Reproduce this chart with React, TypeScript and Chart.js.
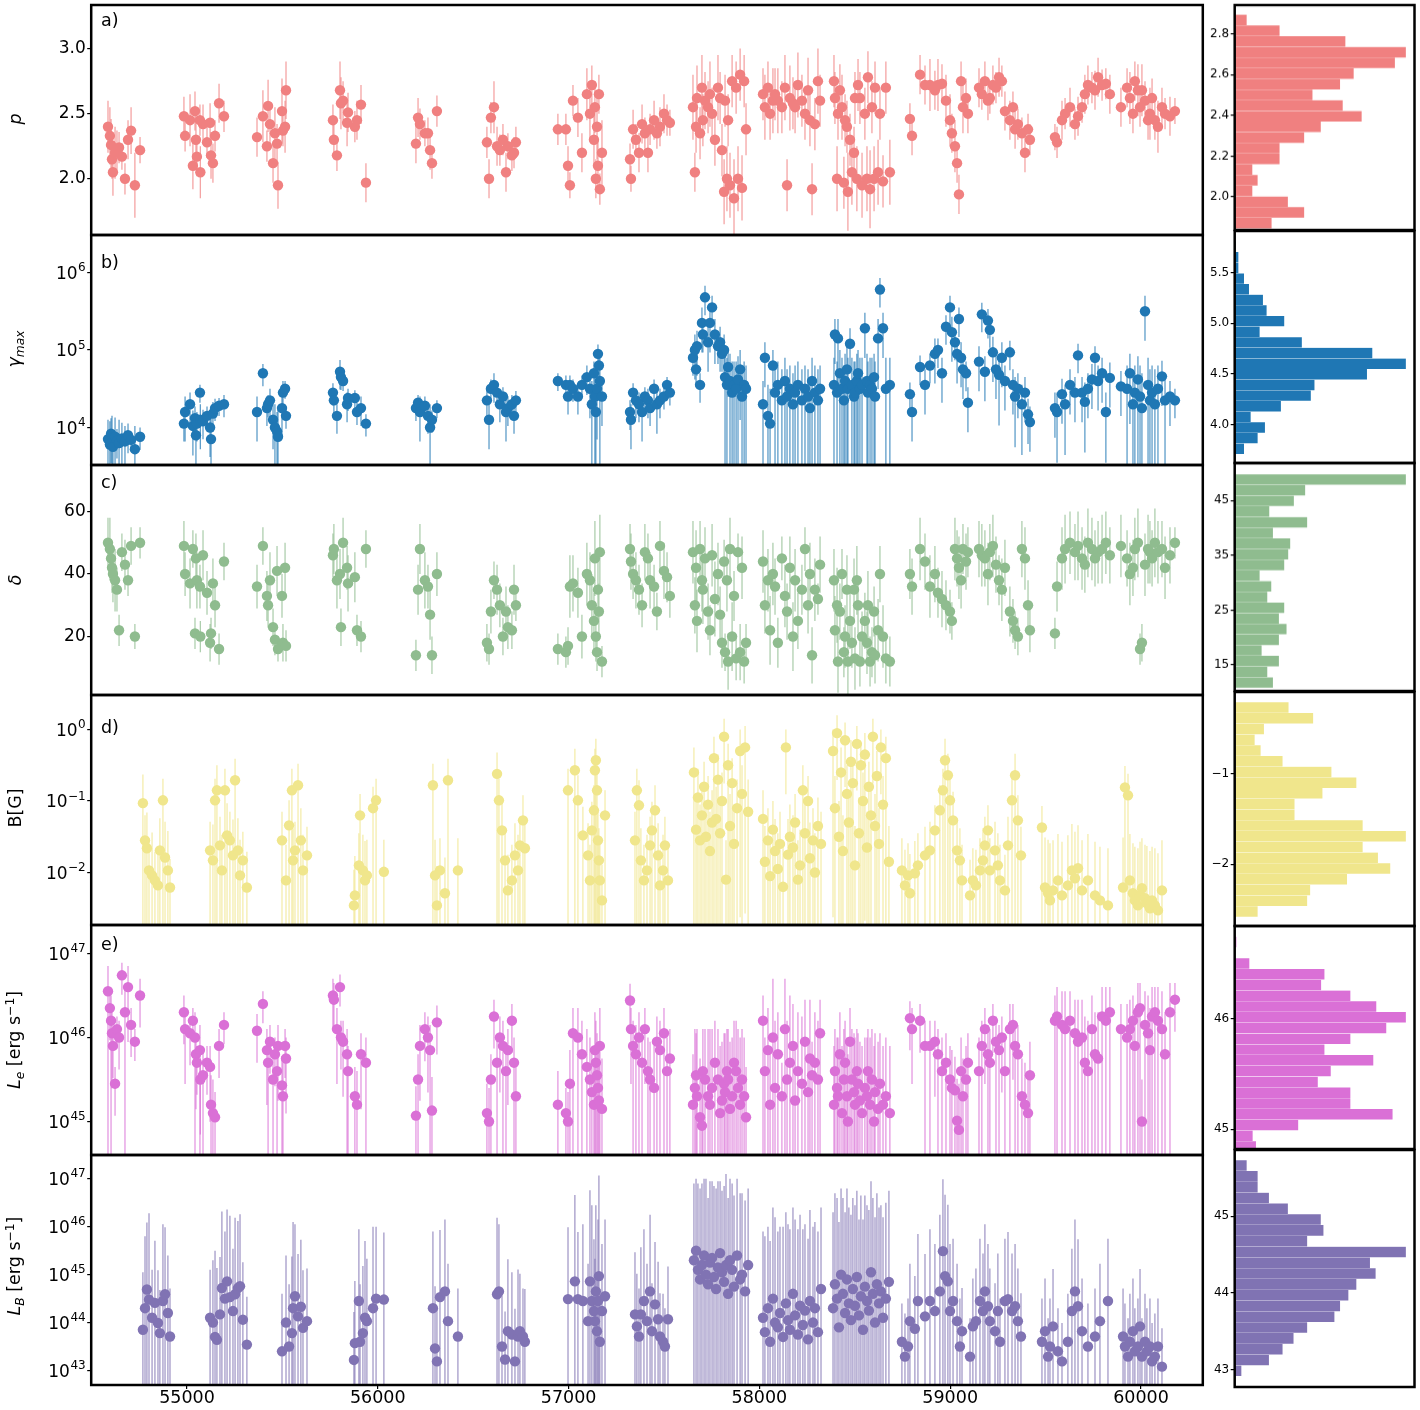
import React, { useEffect, useRef } from "react";
import { Chart, registerables } from "chart.js";

Chart.register(...registerables);

const FAMILY = '"DejaVu Sans", "Liberation Sans", sans-serif';

// ---------- shared time axis ----------
const xTicks = [55000, 56000, 57000, 58000, 59000, 60000];

// observation epochs used by panels a, b, c, e (MJD)
const mjdA = [
	54586, 54596, 54602, 54607, 54612, 54623, 54633, 54644, 54659, 54675, 54691, 54707, 54727, 54754,
	54984, 54990, 55016, 55031, 55042, 55047, 55052, 55068, 55070, 55084, 55105, 55121, 55126, 55136, 55147, 55168, 55194,
	55367, 55398, 55419, 55425, 55435, 55451, 55461, 55472, 55477, 55498, 55503, 55514, 55519,
	55765, 55770, 55786, 55802, 55807, 55818, 55839, 55844, 55880, 55891, 55912, 55938,
	56200, 56211, 56221, 56247, 56263, 56274, 56284, 56310,
	56572, 56583, 56593, 56609, 56625, 56640, 56656, 56672, 56682, 56703, 56714, 56724,
	56944, 56986, 56997, 57007, 57023, 57049, 57070, 57096, 57112, 57122, 57133, 57138, 57143, 57149, 57154, 57159, 57164, 57175,
	57322, 57327, 57338, 57353, 57369, 57385, 57400, 57416, 57427, 57448, 57463, 57479, 57500, 57516, 57531,
	57652, 57662, 57668, 57673, 57689, 57699, 57704, 57715, 57731, 57741, 57752, 57767, 57783, 57794, 57804, 57815, 57820, 57830, 57836, 57846, 57857, 57867, 57878, 57888, 57899, 57909, 57920, 57930,
	58019, 58029, 58045, 58056, 58071, 58082, 58097, 58118, 58134, 58145, 58160, 58176, 58187, 58202, 58223, 58239, 58255, 58265, 58276, 58291, 58307, 58318,
	58391, 58396, 58407, 58412, 58422, 58433, 58443, 58449, 58459, 58464, 58475, 58485, 58496, 58501, 58511, 58517, 58527, 58538, 58553, 58564, 58569, 58580, 58590, 58601, 58606, 58622, 58632, 58648, 58663, 58684,
	58789, 58800, 58842, 58868, 58894, 58920, 58936, 58957, 58978, 58999, 59009, 59025, 59036, 59046, 59057, 59067, 59083, 59093,
	59151, 59166, 59182, 59198, 59208, 59224, 59240, 59256, 59271, 59287, 59313, 59329, 59340, 59355, 59376, 59392, 59408, 59418,
	59549, 59560, 59586, 59602, 59628, 59654, 59670, 59691, 59706, 59722, 59743, 59759, 59775, 59796, 59816, 59837,
	59895, 59927, 59942, 59958, 59968, 59984, 59995, 60005, 60021, 60037, 60047, 60058, 60073, 60089, 60110, 60126, 60152, 60178,
];

// a) spectral index p
const pVal = [
	2.40, 2.33, 2.26, 2.15, 2.05, 2.20, 2.22, 2.24, 2.17, 2.00, 2.30, 2.37, 1.95, 2.22,
	2.48, 2.33, 2.45, 2.10, 2.52, 2.30, 2.17, 2.45, 2.05, 2.42, 2.28, 2.43, 2.18, 2.12, 2.33, 2.58, 2.48,
	2.32, 2.48, 2.25, 2.56, 2.42, 2.12, 2.35, 2.27, 1.95, 2.52, 2.37, 2.40, 2.68,
	2.45, 2.30, 2.18, 2.68, 2.58, 2.60, 2.43, 2.51, 2.40, 2.45, 2.57, 1.97,
	2.27, 2.47, 2.42, 2.35, 2.35, 2.22, 2.12, 2.52,
	2.28, 2.00, 2.47, 2.55, 2.25, 2.22, 2.30, 2.05, 2.25, 2.18, 2.20, 2.28,
	2.38, 2.38, 2.10, 1.95, 2.60, 2.47, 2.20, 2.65, 2.50, 2.72, 2.30, 2.55, 2.00, 2.40, 2.10, 2.65, 1.92, 2.20,
	2.15, 2.00, 2.38, 2.30, 2.20, 2.42, 2.35, 2.20, 2.38, 2.45, 2.35, 2.40, 2.50, 2.45, 2.43,
	2.55, 2.05, 2.40, 2.62, 2.35, 2.70, 2.45, 2.60, 2.55, 2.65, 2.50, 2.30, 2.70, 2.62, 2.22, 1.90, 2.60, 2.00, 2.45, 1.95, 2.75, 1.85, 2.70, 2.00, 2.80, 1.93, 2.75, 2.38,
	2.65, 2.55, 2.70, 2.50, 2.60, 2.65, 2.60, 2.55, 2.70, 1.95, 2.62, 2.58, 2.55, 2.72, 2.60, 2.50, 2.68, 2.45, 1.92, 2.42, 2.75, 2.60,
	2.75, 2.62, 2.00, 2.50, 2.68, 2.55, 1.97, 2.45, 2.40, 1.90, 2.30, 2.05, 2.20, 2.62, 2.00, 2.72, 2.62, 1.95, 2.50, 2.00, 2.78, 1.92, 2.55, 2.00, 2.70, 2.05, 2.50, 1.98, 2.70, 2.05,
	2.46, 2.33, 2.80, 2.72, 2.72, 2.68, 2.72, 2.73, 2.60, 2.45, 2.35, 2.25, 2.12, 1.88, 2.75, 2.55, 2.62, 2.50,
	2.70, 2.65, 2.75, 2.60, 2.62, 2.72, 2.70, 2.78, 2.75, 2.52, 2.45, 2.55, 2.38, 2.42, 2.35, 2.20, 2.38, 2.30,
	2.32, 2.28, 2.45, 2.50, 2.55, 2.42, 2.48, 2.55, 2.65, 2.72, 2.70, 2.68, 2.78, 2.72, 2.73, 2.65,
	2.55, 2.70, 2.62, 2.50, 2.75, 2.68, 2.55, 2.68, 2.60, 2.45, 2.50, 2.62, 2.45, 2.40, 2.55, 2.50, 2.48, 2.52,
];
const pErr = [
	.20, .22, .20, .15, .18, .20, .15, .12, .10, .12, .15, .18, .25, .10,
	.15, .12, .20, .18, .15, .20, .15, .12, .20, .15, .12, .15, .18, .15, .12, .15, .12,
	.15, .20, .12, .20, .15, .15, .20, .15, .18, .25, .12, .20, .22,
	.12, .15, .12, .22, .20, .15, .18, .15, .12, .15, .15, .15,
	.15, .15, .12, .10, .12, .15, .12, .12,
	.12, .15, .12, .20, .15, .12, .12, .15, .10, .12, .12, .12,
	.12, .12, .15, .10, .12, .15, .15, .20, .20, .15, .20, .20, .15, .25, .20, .15, .12, .25,
	.12, .10, .15, .12, .15, .15, .12, .15, .12, .15, .12, .15, .15, .12, .10,
	.25, .15, .20, .25, .20, .25, .20, .22, .20, .25, .20, .20, .25, .20, .20, .25, .20, .25, .20, .25, .20, .30, .20, .25, .20, .25, .20, .20,
	.20, .25, .20, .20, .25, .20, .25, .20, .25, .20, .25, .20, .20, .25, .20, .20, .25, .20, .20, .20, .25, .20,
	.20, .20, .25, .20, .20, .25, .20, .20, .20, .30, .20, .25, .20, .20, .25, .20, .20, .25, .20, .25, .20, .30, .20, .25, .20, .25, .20, .20, .20, .25,
	.12, .15, .15, .15, .20, .15, .20, .15, .20, .20, .15, .20, .15, .15, .15, .20, .15, .15,
	.15, .12, .15, .15, .12, .15, .12, .15, .12, .15, .15, .12, .15, .12, .12, .15, .12, .12,
	.10, .12, .15, .12, .15, .12, .15, .12, .15, .15, .12, .15, .15, .12, .12, .15,
	.15, .15, .20, .15, .15, .20, .15, .20, .15, .15, .20, .15, .15, .20, .15, .12, .15, .10,
];

// b) log10 gamma_max and size of its upper error (dex)
const gammaLog = [
	3.85, 3.78, 3.92, 3.80, 3.75, 3.88, 3.83, 3.80, 3.86, 3.82, 3.90, 3.84, 3.72, 3.88,
	4.05, 4.20, 4.30, 4.02, 4.12, 3.90, 4.05, 4.45, 4.10, 4.08, 4.15, 4.00, 3.85, 4.18, 4.25, 4.28, 4.30,
	4.20, 4.70, 4.25, 4.30, 4.35, 4.10, 4.00, 3.95, 3.88, 4.25, 4.45, 4.50, 4.15,
	4.45, 4.35, 4.15, 4.72, 4.65, 4.60, 4.30, 4.38, 4.38, 4.20, 4.25, 4.05,
	4.25, 4.32, 4.20, 4.28, 4.15, 4.00, 4.10, 4.25,
	4.35, 4.10, 4.50, 4.55, 4.45, 4.30, 4.40, 4.20, 4.25, 4.30, 4.15, 4.35,
	4.60, 4.55, 4.40, 4.55, 4.50, 4.40, 4.55, 4.65, 4.50, 4.30, 4.70, 4.40, 4.20, 4.50, 4.95, 4.80, 4.60, 4.40,
	4.20, 4.10, 4.45, 4.35, 4.30, 4.20, 4.40, 4.35, 4.25, 4.50, 4.30, 4.35, 4.40, 4.55, 4.45,
	4.90, 5.00, 4.75, 5.05, 4.55, 5.35, 5.20, 5.68, 5.10, 5.35, 5.55, 5.20, 5.05, 5.10, 4.95, 5.00, 4.65, 4.55, 4.78, 4.60, 4.45, 4.55, 4.50, 4.62, 4.75, 4.40, 4.55, 4.50,
	4.30, 4.90, 4.15, 4.05, 4.80, 4.45, 4.55, 4.35, 4.60, 4.40, 4.50, 4.30, 4.45, 4.55, 4.35, 4.50, 4.40, 4.25, 4.60, 4.45, 4.35, 4.50,
	4.55, 5.20, 4.45, 5.15, 4.70, 4.50, 4.35, 4.60, 4.75, 4.50, 5.08, 4.55, 4.40, 4.45, 4.60, 4.70, 4.50, 4.55, 5.28, 4.60, 4.45, 4.55, 4.50, 4.65, 4.40, 5.15, 5.78, 5.28, 4.50, 4.55,
	4.43, 4.20, 4.78, 4.55, 4.80, 4.95, 5.00, 4.70, 5.30, 5.55, 5.23, 5.10, 4.95, 5.40, 4.90, 4.75, 4.70, 4.32,
	4.85, 5.46, 4.72, 5.38, 5.26, 4.97, 4.75, 4.68, 4.90, 4.60, 4.97, 4.55, 4.40, 4.50, 4.30, 4.45, 4.17, 4.07,
	4.25, 4.20, 4.43, 4.30, 4.55, 4.45, 4.93, 4.45, 4.33, 4.50, 4.62, 4.90, 4.60, 4.70, 4.20, 4.64,
	4.53, 4.50, 4.70, 4.30, 4.45, 4.62, 4.40, 4.25, 5.50, 4.55, 4.35, 4.45, 4.30, 4.50, 4.66, 4.35, 4.40, 4.35,
];
const gammaUp = [
	.25, .30, .20, .35, .20, .25, .15, .30, .20, .20, .15, .10, .30, .12,
	.15, .20, .15, .20, .15, .25, .15, .10, .20, .15, .12, .20, .30, .15, .12, .10, .12,
	.20, .12, .15, .12, .15, .20, .30, .25, .35, .20, .15, .10, .12,
	.12, .15, .15, .15, .12, .10, .15, .12, .10, .12, .15, .12,
	.12, .10, .20, .12, .15, .30, .12, .10,
	.15, .20, .12, .15, .12, .15, .12, .20, .15, .12, .15, .12,
	.10, .12, .15, .12, .12, .15, .12, .15, .20, .30, .15, .30, .35, .25, .12, .15, .30, .20,
	.15, .20, .12, .15, .15, .20, .12, .15, .15, .12, .20, .15, .12, .10, .12,
	.15, .20, .15, .20, .15, .20, .15, .15, .20, .20, .15, .20, .15, .20, .15, .20, .30, .35, .20, .35, .40, .30, .35, .30, .25, .35, .30, .30,
	.30, .20, .40, .45, .20, .35, .30, .40, .30, .35, .30, .40, .35, .30, .40, .30, .35, .40, .30, .35, .40, .30,
	.35, .20, .40, .25, .30, .40, .45, .35, .30, .40, .20, .35, .45, .40, .35, .30, .40, .35, .20, .35, .40, .35, .40, .30, .45, .25, .15, .20, .40, .35,
	.15, .20, .15, .20, .15, .20, .15, .20, .15, .15, .20, .15, .20, .15, .20, .20, .15, .20,
	.20, .15, .20, .15, .15, .20, .20, .25, .20, .20, .15, .20, .25, .20, .25, .20, .20, .20,
	.20, .25, .20, .25, .20, .20, .15, .20, .25, .20, .20, .15, .20, .20, .25, .20,
	.20, .30, .25, .40, .35, .30, .40, .45, .20, .35, .40, .35, .45, .30, .20, .30, .20, .15,
];

// c) Doppler factor delta
const deltaVal = [
	50, 48, 45, 42, 40, 38, 35, 22, 47, 43, 38, 49, 20, 50,
	49, 40, 37, 48, 21, 45, 38, 36, 20, 46, 34, 18, 21, 37, 30, 16, 44,
	36, 49, 33, 30, 38, 23, 19, 41, 16, 33, 18, 42, 17,
	46, 48, 38, 40, 23, 50, 42, 37, 39, 22, 20, 48,
	14, 35, 48, 38, 36, 27, 14, 40,
	18, 16, 28, 38, 35, 30, 20, 28, 23, 22, 35, 30,
	16, 15, 17, 36, 37, 34, 20, 40, 38, 30, 25, 45, 20, 15, 35, 28, 47, 12,
	48, 44, 40, 38, 35, 30, 47, 45, 38, 36, 28, 49, 41, 39, 33,
	47, 30, 42, 25, 48, 38, 35, 45, 28, 22, 46, 32, 40, 27, 18, 44, 15, 38, 12, 48, 20, 33, 13, 47, 15, 42, 12, 18,
	44, 30, 38, 22, 40, 36, 18, 45, 33, 28, 42, 20, 38, 25, 35, 48, 30, 40, 14, 35, 32, 43,
	38, 22, 30, 12, 28, 40, 15, 20, 35, 12, 25, 18, 35, 13, 38, 30, 12, 20, 25, 18, 30, 12, 15, 28, 14, 22, 40, 20, 13, 12,
	40, 36, 48, 44, 36, 40, 34, 32, 30, 28, 25, 48, 45, 42, 38, 48, 44, 47,
	48, 46, 45, 40, 47, 49, 43, 38, 35, 42, 28, 25, 22, 20, 48, 45, 30, 22,
	21, 36, 45, 48, 50, 47, 49, 45, 43, 50, 48, 45, 47, 48, 50, 46,
	49, 45, 40, 42, 48, 50, 16, 18, 43, 48, 47, 45, 50, 47, 48, 42, 46, 50,
];
const deltaErr = [
	8, 10, 6, 8, 9, 10, 7, 5, 6, 8, 5, 6, 4, 5,
	8, 7, 8, 6, 5, 8, 9, 7, 5, 8, 7, 6, 5, 8, 7, 5, 6,
	7, 6, 8, 7, 9, 6, 5, 8, 4, 7, 6, 8, 5,
	7, 8, 9, 8, 6, 8, 7, 9, 8, 5, 5, 6,
	5, 8, 8, 9, 7, 8, 6, 7,
	6, 5, 7, 6, 8, 7, 6, 8, 7, 6, 8, 5,
	5, 5, 6, 10, 9, 8, 7, 10, 9, 10, 9, 12, 8, 6, 10, 9, 12, 5,
	8, 9, 8, 9, 8, 7, 9, 8, 9, 7, 6, 8, 9, 8, 7,
	10, 9, 12, 10, 9, 10, 11, 10, 9, 8, 10, 12, 10, 9, 8, 7, 6, 10, 9, 10, 11, 8, 7, 6, 9, 10, 7, 6,
	10, 9, 10, 11, 10, 9, 8, 7, 10, 9, 10, 11, 10, 9, 8, 7, 9, 10, 9, 10, 5, 9,
	10, 11, 12, 10, 9, 8, 8, 10, 11, 12, 9, 8, 10, 10, 11, 9, 8, 8, 9, 10, 11, 8, 8, 8, 9, 10, 9, 10, 8, 8,
	8, 9, 10, 9, 10, 9, 8, 9, 8, 7, 6, 10, 9, 10, 9, 8, 9, 8,
	9, 10, 9, 10, 9, 10, 9, 8, 10, 9, 8, 7, 6, 6, 9, 10, 8, 7,
	5, 8, 10, 11, 10, 9, 11, 10, 9, 11, 10, 9, 10, 11, 10, 9,
	10, 9, 10, 9, 10, 11, 5, 6, 10, 11, 10, 9, 11, 10, 9, 10, 9, 5,
];

// e) log10 L_e and upper error (dex)
const leLog = [
	46.55, 46.35, 46.20, 46.05, 45.90, 45.45, 46.10, 46.00, 46.74, 46.30, 46.60, 46.15, 45.95, 46.50,
	46.30, 46.10, 46.05, 46.20, 46.00, 45.80, 45.70, 45.85, 45.50, 45.55, 45.70, 45.65, 45.20, 45.10, 45.05, 45.90, 46.15,
	46.08, 46.40, 45.85, 45.70, 45.95, 45.50, 45.80, 45.60, 45.90, 45.43, 45.30, 45.90, 45.75,
	46.50, 46.45, 46.10, 46.60, 46.00, 45.95, 45.80, 45.60, 45.30, 45.20, 45.80, 45.70,
	45.07, 45.50, 45.90, 46.10, 46.00, 45.85, 45.13, 46.18,
	45.10, 45.00, 45.50, 46.25, 45.70, 46.00, 45.90, 45.60, 45.85, 46.20, 45.70, 45.30,
	45.20, 45.10, 45.00, 45.45, 46.05, 46.00, 45.80, 45.65, 45.50, 45.35, 45.20, 45.85, 45.70, 45.55, 45.40, 45.25, 45.90, 45.15,
	46.44, 46.10, 45.90, 45.80, 46.00, 45.70, 46.10, 45.60, 45.50, 45.40, 45.95, 45.85, 46.05, 45.60, 45.75,
	45.20, 45.40, 45.55, 45.30, 45.05, 44.95, 45.60, 45.50, 45.30, 45.20, 45.40, 45.70, 45.50, 45.10, 45.25, 45.45, 45.35, 45.60, 45.50, 45.15, 45.30, 45.70, 45.60, 45.40, 45.20, 45.50, 45.30, 45.05,
	46.20, 45.60, 45.85, 45.20, 46.00, 45.40, 45.80, 45.30, 46.10, 45.50, 45.70, 45.90, 45.25, 45.60, 45.45, 45.95, 45.35, 45.75, 45.55, 45.70, 45.50, 46.05,
	45.20, 45.60, 45.40, 45.30, 45.80, 45.10, 45.50, 45.70, 45.30, 45.00, 45.95, 45.50, 45.35, 45.20, 45.60, 45.45, 45.25, 45.10, 45.40, 45.30, 45.60, 45.20, 45.50, 45.00, 45.35, 45.15, 45.45, 45.20, 45.30, 45.10,
	46.23, 46.10, 46.20, 45.90, 45.90, 45.95, 45.80, 45.60, 45.70, 45.50, 45.40, 45.37, 45.01, 44.90, 45.60, 45.30, 45.50, 45.70,
	45.60, 45.90, 46.10, 45.80, 45.70, 46.20, 45.95, 45.85, 46.00, 45.60, 46.10, 46.15, 45.90, 45.80, 45.30, 45.20, 45.10, 45.55,
	46.20, 46.25, 46.15, 46.10, 46.20, 46.05, 45.95, 46.00, 45.70, 45.60, 46.10, 45.80, 45.75, 46.25, 46.20, 46.30,
	46.10, 46.00, 46.10, 46.20, 45.90, 46.30, 46.35, 45.00, 46.15, 46.05, 45.85, 46.25, 46.30, 46.20, 46.10, 45.80, 46.30, 46.45,
];
const leUp = [
	.30, .20, .30, .25, .20, .20, .15, .20, .15, .30, .25, .20, .15, .20,
	.20, .25, .20, .15, .30, .25, .20, .30, .25, .30, .20, .25, .35, .40, .30, .20, .15,
	.20, .15, .25, .30, .20, .30, .20, .30, .25, .35, .40, .20, .25,
	.20, .20, .25, .15, .20, .25, .30, .30, .35, .40, .25, .30,
	.35, .30, .25, .20, .25, .30, .40, .20,
	.35, .40, .30, .20, .30, .25, .30, .30, .25, .20, .30, .35,
	.40, .30, .35, .40, .30, .35, .40, .45, .50, .50, .55, .45, .50, .50, .55, .60, .45, .60,
	.20, .25, .30, .35, .30, .40, .25, .40, .45, .50, .30, .35, .30, .40, .35,
	.60, .70, .50, .80, .70, .60, .50, .60, .80, .90, .70, .50, .60, .80, .70, .60, .70, .50, .60, .80, .70, .50, .60, .70, .80, .60, .70, .60,
	.30, .40, .50, .60, .70, .80, .50, .40, .60, .70, .80, .50, .60, .70, .80, .50, .60, .70, .40, .60, .70, .40,
	.70, .50, .60, .70, .50, .80, .60, .50, .70, .80, .40, .60, .70, .80, .50, .60, .70, .80, .60, .70, .50, .80, .60, .90, .70, .80, .60, .70, .70, .80,
	.20, .25, .20, .30, .30, .25, .30, .40, .35, .40, .45, .40, .50, .55, .40, .45, .40, .35,
	.40, .30, .25, .35, .40, .20, .30, .30, .25, .40, .30, .25, .30, .35, .45, .50, .50, .40,
	.30, .35, .40, .45, .35, .40, .50, .45, .55, .60, .40, .50, .55, .35, .40, .30,
	.30, .40, .35, .30, .45, .35, .30, .50, .40, .45, .50, .35, .30, .40, .45, .50, .35, .20,
];

// epochs used by panels d and f (MJD)
const mjdB = [
	54769, 54780, 54790, 54801, 54817, 54832, 54848, 54858, 54874, 54885, 54900, 54911,
	55121, 55136, 55147, 55157, 55173, 55183, 55199, 55210, 55225, 55241, 55252, 55267, 55278, 55293, 55314,
	55498, 55519, 55535, 55550, 55556, 55566, 55582, 55597, 55608, 55629,
	55875, 55880, 55901, 55907, 55922, 55933, 55943, 55975, 55991, 56032,
	56289, 56300, 56310, 56326, 56352, 56368, 56420,
	56625, 56635, 56651, 56667, 56682, 56703, 56719, 56735, 56745, 56761, 56771,
	56997, 57033, 57049, 57075, 57102, 57112, 57122, 57133, 57138, 57143, 57149, 57154, 57159, 57164, 57175, 57191,
	57348, 57358, 57369, 57379, 57395, 57411, 57427, 57437, 57453, 57469, 57479, 57495, 57505, 57521,
	57657, 57668, 57678, 57689, 57699, 57710, 57720, 57731, 57741, 57752, 57762, 57773, 57783, 57794, 57804, 57815, 57825, 57836, 57846, 57857, 57867, 57883, 57899, 57909, 57925, 57941,
	58019, 58029, 58045, 58056, 58071, 58082, 58097, 58108, 58124, 58139, 58150, 58160, 58176, 58187, 58202, 58213, 58228, 58239, 58255, 58265, 58281, 58291, 58307, 58323,
	58386, 58396, 58407, 58417, 58428, 58438, 58449, 58459, 58469, 58480, 58490, 58501, 58511, 58522, 58532, 58543, 58553, 58564, 58574, 58585, 58595, 58606, 58616, 58627, 58637, 58648, 58663, 58679,
	58747, 58763, 58779, 58789, 58815, 58831, 58868, 58894, 58920, 58946, 58962, 58973, 58988, 58999, 59015, 59036, 59051, 59062,
	59104, 59119, 59135, 59156, 59172, 59182, 59198, 59208, 59235, 59250, 59261, 59287, 59303, 59324, 59340, 59355, 59371,
	59481, 59497, 59513, 59523, 59539, 59565, 59586, 59617, 59638, 59654, 59670, 59691, 59722, 59759, 59785, 59827,
	59906, 59916, 59932, 59942, 59958, 59968, 59984, 59995, 60005, 60021, 60031, 60047, 60058, 60073, 60089, 60110,
];

// d) log10 B [G] and upper error (dex)
const bLog = [
	-1.03, -1.55, -1.66, -1.97, -2.04, -2.11, -2.18, -1.69, -0.99, -1.79, -1.97, -2.21,
	-1.69, -1.83, -0.99, -0.85, -1.62, -1.97, -0.85, -1.48, -1.55, -1.76, -0.71, -1.69, -2.04, -1.83, -2.21,
	-1.55, -2.11, -1.34, -0.85, -1.83, -1.69, -0.78, -1.55, -1.97, -1.76,
	-2.46, -2.32, -1.90, -1.20, -1.97, -2.11, -2.04, -1.10, -0.99, -1.99,
	-0.78, -2.04, -2.46, -1.97, -2.29, -0.71, -1.97,
	-0.62, -0.99, -1.41, -1.83, -2.25, -2.11, -1.76, -1.97, -1.62, -1.27, -1.66,
	-0.85, -0.57, -0.99, -1.48, -1.76, -2.11, -1.41, -1.13, -0.57, -0.43, -0.85, -1.55, -1.83, -2.11, -2.39, -1.20,
	-1.55, -0.85, -1.06, -1.83, -2.11, -1.97, -1.62, -1.41, -1.13, -1.76, -2.18, -1.97, -1.62, -2.11,
	-0.60, -1.40, -0.95, -1.55, -1.20, -0.80, -1.50, -1.05, -1.70, -1.30, -0.40, -1.25, -0.70, -1.45, -1.00, -0.10, -2.10, -0.50, -1.35, -0.75, -1.60, -1.10, -0.30, -0.90, -0.25, -1.15,
	-1.25, -1.85, -1.55, -2.05, -1.40, -1.70, -1.95, -1.60, -2.20, -0.25, -1.75, -1.50, -1.65, -1.30, -2.10, -1.90, -0.85, -1.45, -1.00, -1.80, -1.55, -2.00, -1.35, -1.60,
	-0.30, -1.10, -0.05, -1.50, -0.60, -1.70, -0.15, -0.90, -1.30, -0.45, -0.75, -1.90, -0.20, -1.45, -0.50, -1.00, -0.35, -1.65, -0.80, -1.20, -0.10, -1.35, -0.65, -1.60, -0.25, -1.05, -0.40, -1.85,
	-1.97, -2.18, -2.04, -2.29, -2.01, -1.90, -1.76, -1.69, -1.41, -1.13, -0.85, -0.43, -0.64, -0.99, -1.27, -1.69, -1.83, -2.11,
	-2.32, -2.11, -2.18, -1.97, -1.83, -1.62, -1.41, -1.97, -1.69, -1.90, -2.11, -2.25, -1.62, -0.99, -0.64, -1.27, -1.76,
	-1.37, -2.21, -2.29, -2.39, -2.25, -2.11, -2.32, -2.18, -1.97, -2.08, -1.94, -2.25, -2.11, -2.32, -2.39, -2.46,
	-2.21, -0.81, -0.92, -2.11, -2.29, -2.39, -2.46, -2.32, -2.22, -2.36, -2.43, -2.50, -2.39, -2.46, -2.53, -2.25,
];
const bUp = [
	.40, .35, .50, .45, .60, .40, .50, .45, .30, .50, .55, .40,
	.40, .50, .30, .35, .40, .50, .30, .45, .40, .50, .30, .45, .50, .40, .50,
	.40, .50, .35, .30, .45, .40, .30, .45, .50, .40,
	.50, .55, .45, .30, .50, .55, .50, .30, .30, .45,
	.30, .50, .55, .45, .50, .30, .45,
	.30, .30, .40, .45, .50, .50, .45, .50, .40, .35, .40,
	.30, .30, .35, .40, .45, .50, .40, .35, .30, .30, .35, .40, .45, .50, .50, .35,
	.40, .30, .35, .45, .50, .50, .40, .40, .35, .45, .50, .50, .40, .50,
	.35, .50, .40, .50, .45, .35, .50, .40, .55, .45, .30, .45, .35, .50, .40, .25, .55, .30, .45, .35, .50, .40, .30, .40, .30, .45,
	.40, .50, .45, .55, .40, .45, .50, .45, .55, .25, .50, .45, .45, .40, .55, .50, .35, .40, .35, .50, .45, .55, .40, .45,
	.30, .45, .25, .50, .35, .50, .25, .40, .45, .30, .35, .55, .25, .50, .30, .40, .30, .50, .35, .45, .25, .45, .35, .50, .25, .40, .30, .50,
	.45, .50, .45, .55, .45, .45, .40, .40, .35, .35, .30, .30, .30, .35, .40, .45, .45, .50,
	.50, .45, .50, .45, .45, .40, .35, .45, .40, .45, .50, .50, .40, .35, .30, .35, .40,
	.30, .70, .75, .80, .70, .65, .75, .70, .65, .65, .60, .70, .65, .75, .75, .80,
	.70, .30, .30, .65, .70, .75, .80, .75, .70, .75, .80, .80, .75, .80, .80, .70,
];

// f) log10 L_B and upper error (dex)
const lbLog = [
	43.85, 44.30, 44.69, 44.48, 44.10, 44.41, 43.99, 43.78, 44.45, 44.59, 44.20, 43.71,
	44.10, 44.00, 43.70, 43.64, 44.17, 44.72, 44.50, 44.86, 44.53, 44.24, 44.59, 44.72, 44.76, 44.06, 43.54,
	43.40, 44.00, 43.50, 43.78, 44.30, 44.55, 44.13, 44.33, 43.89, 44.03,
	43.22, 43.57, 44.45, 43.60, 43.78, 44.10, 44.03, 44.30, 44.50, 44.48,
	44.30, 43.46, 43.19, 44.53, 44.65, 44.03, 43.71,
	44.59, 44.65, 43.50, 43.23, 43.82, 43.75, 43.19, 43.71, 43.82, 43.71, 43.60,
	44.49, 44.86, 44.49, 44.45, 44.03, 44.86, 44.45, 44.24, 44.03, 44.65, 43.82, 44.45, 44.97, 43.60, 44.24, 44.55,
	44.17, 43.92, 43.71, 44.17, 44.45, 44.03, 44.65, 43.82, 44.38, 44.07, 43.71, 43.60, 43.50, 44.07,
	45.30, 45.50, 45.10, 44.90, 45.20, 45.40, 45.00, 44.80, 45.25, 45.35, 44.95, 44.70, 45.15, 45.45, 45.05, 44.85, 45.20, 44.60, 45.30, 45.10, 44.75, 45.40, 44.90, 45.00, 44.65, 45.20,
	44.10, 43.80, 44.30, 43.60, 44.50, 44.00, 43.90, 44.20, 43.70, 44.40, 44.05, 43.85, 44.60, 44.15, 43.75, 44.35, 43.95, 44.25, 43.65, 44.45, 44.00, 44.30, 43.80, 44.70,
	44.30, 44.80, 44.50, 43.90, 45.00, 44.60, 44.20, 44.90, 44.40, 44.05, 44.70, 44.35, 44.95, 44.15, 44.55, 43.85, 44.75, 44.45, 44.25, 45.05, 44.60, 44.00, 44.80, 44.40, 44.65, 44.10, 44.50, 44.85,
	43.60, 43.29, 43.50, 44.03, 43.87, 44.45, 44.13, 44.45, 44.24, 44.65, 45.49, 44.97, 44.86, 44.24, 44.45, 44.03, 43.50, 43.82,
	43.29, 43.92, 44.03, 44.45, 44.24, 44.65, 44.34, 44.03, 43.82, 44.24, 43.60, 44.45, 44.49, 44.24, 44.34, 44.03, 43.71,
	43.60, 43.82, 43.29, 43.50, 43.92, 43.40, 43.19, 43.60, 44.24, 44.65, 44.34, 43.82, 43.50, 43.71, 44.03, 44.45,
	43.71, 43.50, 43.29, 43.60, 43.82, 43.40, 43.50, 43.92, 43.29, 43.60, 43.40, 43.50, 43.19, 43.29, 43.50, 43.08,
];
const lbUp = [
	1.2, 1.5, 1.4, 1.8, 1.0, 1.3, 1.1, 0.9, 1.6, 1.4, 1.2, 1.0,
	1.0, 1.3, 1.8, 1.5, 1.2, 1.6, 1.4, 1.5, 1.7, 1.3, 1.6, 1.4, 1.5, 1.2, 1.0,
	1.2, 1.4, 1.3, 1.6, 1.8, 1.5, 1.3, 1.4, 1.2, 1.1,
	1.0, 1.3, 1.5, 1.2, 1.4, 1.6, 1.3, 1.7, 1.5, 1.4,
	1.6, 1.3, 1.1, 1.4, 1.5, 1.2, 1.0,
	1.6, 1.4, 1.2, 1.0, 1.5, 1.3, 1.1, 1.4, 1.2, 1.0, 1.1,
	1.5, 1.8, 1.4, 1.6, 1.2, 1.9, 2.0, 1.5, 1.3, 1.8, 1.2, 1.7, 2.1, 1.1, 1.4, 1.6,
	1.3, 1.1, 1.0, 1.4, 1.5, 1.2, 1.6, 1.0, 1.3, 1.2, 0.9, 1.0, 0.8, 1.1,
	1.6, 1.5, 1.8, 1.9, 1.7, 1.6, 2.0, 1.8, 1.7, 1.6, 1.9, 2.1, 1.8, 1.5, 1.7, 2.0, 1.9, 2.0, 1.7, 1.8, 1.9, 1.6, 1.8, 1.7, 1.9, 1.6,
	1.8, 2.0, 1.7, 2.1, 1.9, 2.2, 2.0, 1.8, 2.3, 1.9, 2.0, 2.1, 1.8, 2.0, 2.2, 1.9, 2.0, 1.8, 2.1, 1.9, 2.0, 1.8, 2.1, 1.7,
	2.0, 1.9, 2.1, 2.2, 1.8, 2.0, 2.1, 1.9, 2.0, 2.2, 1.9, 2.1, 1.8, 2.0, 2.1, 2.3, 1.9, 2.0, 2.1, 1.9, 2.0, 2.2, 1.9, 2.0, 1.8, 2.1, 2.0, 1.9,
	0.8, 0.9, 1.0, 1.2, 1.1, 1.4, 1.3, 1.5, 1.4, 1.6, 1.5, 1.7, 1.6, 1.4, 1.3, 1.2, 1.0, 0.9,
	0.8, 1.0, 1.1, 1.3, 1.2, 1.4, 1.3, 1.1, 1.0, 1.2, 0.9, 1.3, 1.4, 1.2, 1.3, 1.1, 0.9,
	0.9, 1.1, 0.8, 1.0, 1.2, 0.9, 0.8, 1.0, 1.3, 1.5, 1.4, 1.1, 0.9, 1.0, 1.2, 1.3,
	1.0, 0.9, 0.8, 1.0, 1.1, 0.9, 1.0, 1.2, 0.8, 1.0, 0.9, 1.0, 0.8, 0.9, 1.0, 0.8,
];

// ---------- side histograms (bin centres, top to bottom, and bar lengths) ----------
const pBinMid = [2.867, 2.814, 2.762, 2.709, 2.657, 2.604, 2.552, 2.499, 2.447, 2.394, 2.342, 2.289, 2.237, 2.184, 2.132, 2.079, 2.027, 1.974, 1.922, 1.869];
const pCount = [38, 137, 335, 517, 484, 360, 319, 236, 327, 384, 261, 211, 137, 137, 55, 71, 55, 162, 211, 113];
const gammaBinMid = [5.753, 5.648, 5.543, 5.438, 5.333, 5.228, 5.123, 5.018, 4.913, 4.808, 4.703, 4.598, 4.493, 4.388, 4.283, 4.178, 4.073, 3.968, 3.863, 3.758];
const gammaCount = [3, 13, 13, 30, 45, 87, 98, 151, 77, 204, 416, 517, 400, 242, 231, 141, 50, 93, 71, 30];
const deltaBinMid = [48.76, 46.81, 44.86, 42.91, 40.96, 39.01, 37.07, 35.12, 33.17, 31.22, 29.27, 27.32, 25.37, 23.43, 21.48, 19.53, 17.58, 15.63, 13.68, 11.73];
const deltaCount = [517, 214, 180, 106, 220, 117, 169, 163, 151, 77, 112, 100, 151, 135, 158, 135, 83, 135, 100, 117];
const bBinMid = [-0.270, -0.389, -0.508, -0.627, -0.745, -0.864, -0.983, -1.102, -1.220, -1.339, -1.458, -1.577, -1.695, -1.814, -1.933, -2.052, -2.170, -2.289, -2.408, -2.527];
const bCount = [164, 238, 90, 62, 80, 146, 293, 368, 266, 182, 182, 387, 517, 387, 433, 470, 340, 229, 220, 71];
const leBinMid = [46.689, 46.592, 46.495, 46.397, 46.300, 46.203, 46.105, 46.008, 45.911, 45.813, 45.716, 45.619, 45.522, 45.424, 45.327, 45.230, 45.132, 45.035, 44.938, 44.840];
const leCount = [7, 0, 46, 272, 262, 350, 428, 517, 458, 350, 272, 419, 291, 252, 350, 350, 477, 193, 56, 66];
const lbBinMid = [45.655, 45.514, 45.374, 45.233, 45.093, 44.952, 44.811, 44.671, 44.530, 44.390, 44.249, 44.108, 43.968, 43.827, 43.687, 43.546, 43.405, 43.265, 43.124, 42.984];
const lbCount = [38, 71, 71, 105, 162, 261, 269, 220, 517, 409, 426, 368, 344, 319, 302, 220, 179, 146, 105, 22];

// tick values
const pTicks = [2.0, 2.5, 3.0];
const gammaExp = [4, 5, 6];
const deltaTicks = [20, 40, 60];
const bExp = [-2, -1, 0];
const leExp = [45, 46, 47];
const lbExp = [43, 44, 45, 46, 47];
const pHistTicks = [2.0, 2.2, 2.4, 2.6, 2.8];
const gammaHistTicks = [4.0, 4.5, 5.0, 5.5];
const deltaHistTicks = [15, 25, 35, 45];
const bHistTicks = [-2, -1];
const leHistTicks = [45, 46];
const lbHistTicks = [43, 44, 45];

// ---------- layout ----------
const PAD = 14;
const LEFT = 91.2;
const RIGHT = 1202.8;
const CW = 1216;
const PANEL_H = 230;
const panelTops = [4.5, 234.5, 464.5, 694.5, 924.5, 1154.5];
const X_AXIS_H = 26;
const H_X0 = 1186;
const H_LEFT = 1234.7;
const H_RIGHT = 1414.5;
const H_W = 1420 - H_X0;
const histFrames = [[5.2, 229.8], [230.5, 463.2], [463.2, 690.8], [691.5, 925.5], [925.5, 1148.5], [1149.5, 1387.2]];

const COLORS = ["#f08080", "#1f77b4", "#8fbc8f", "#f0e68c", "#da70d6", "#8073b3"];

interface Row {
	x: number[];
	v: number[];
	e: number[];
	log: boolean;
	yMin: number;
	yMax: number;
	ticks: number[];
	dec?: number;
}

const rows: Row[] = [
	{ x: mjdA, v: pVal, e: pErr, log: false, yMin: 1.568, yMax: 3.335, ticks: pTicks, dec: 1 },
	{ x: mjdA, v: gammaLog, e: gammaUp, log: true, yMin: 3.516, yMax: 6.484, ticks: gammaExp },
	{ x: mjdA, v: deltaVal, e: deltaErr, log: false, yMin: 1.28, yMax: 74.88, ticks: deltaTicks, dec: 0 },
	{ x: mjdB, v: bLog, e: bUp, log: true, yMin: -2.734, yMax: 0.483, ticks: bExp },
	{ x: mjdA, v: leLog, e: leUp, log: true, yMin: 44.601, yMax: 47.339, ticks: leExp },
	{ x: mjdB, v: lbLog, e: lbUp, log: true, yMin: 42.697, yMax: 47.497, ticks: lbExp },
];

interface Hist {
	mid: number[];
	n: number[];
	yMin: number;
	yMax: number;
	ticks: number[];
	fmt: (v: number) => string;
}

const minus = (v: number) => (v < 0 ? "\u2212" + Math.abs(v) : String(v));

const hists: Hist[] = [
	{ mid: pBinMid, n: pCount, yMin: 1.837, yMax: 2.942, ticks: pHistTicks, fmt: (v) => v.toFixed(1) },
	{ mid: gammaBinMid, n: gammaCount, yMin: 3.621, yMax: 5.911, ticks: gammaHistTicks, fmt: (v) => v.toFixed(1) },
	{ mid: deltaBinMid, n: deltaCount, yMin: 10.25, yMax: 51.82, ticks: deltaHistTicks, fmt: (v) => String(v) },
	{ mid: bBinMid, n: bCount, yMin: -2.684, yMax: -0.095, ticks: bHistTicks, fmt: minus },
	{ mid: leBinMid, n: leCount, yMin: 44.821, yMax: 46.836, ticks: leHistTicks, fmt: (v) => String(v) },
	{ mid: lbBinMid, n: lbCount, yMin: 42.777, yMax: 45.861, ticks: lbHistTicks, fmt: (v) => String(v) },
];

// ---------- plugins ----------
const framePlugin = {
	id: "frame",
	afterDraw(chart: any) {
		const { ctx, chartArea: ca } = chart;
		ctx.save();
		ctx.strokeStyle = "#000";
		ctx.lineWidth = 2.5;
		ctx.strokeRect(ca.left, ca.top, ca.right - ca.left, ca.bottom - ca.top);
		ctx.restore();
	},
};

function errorBars(color: string, isLog: boolean) {
	return {
		id: "errorBars",
		beforeDatasetsDraw(chart: any) {
			const { ctx, chartArea: ca } = chart;
			const xs = chart.scales.x;
			const ys = chart.scales.y;
			const pts = chart.data.datasets[0].data as any[];
			ctx.save();
			ctx.beginPath();
			ctx.rect(ca.left, ca.top, ca.right - ca.left, ca.bottom - ca.top);
			ctx.clip();
			ctx.strokeStyle = color;
			ctx.globalAlpha = 0.75;
			ctx.lineWidth = 1.25;
			for (const p of pts) {
				const px = xs.getPixelForValue(p.x);
				const y1 = Math.max(ys.getPixelForValue(p.hi), ca.top - 2);
				const y0 = isLog && p.lo <= 0 ? ca.bottom + 2 : Math.min(ys.getPixelForValue(p.lo), ca.bottom + 2);
				ctx.beginPath();
				ctx.moveTo(px, y0);
				ctx.lineTo(px, y1);
				ctx.stroke();
			}
			ctx.restore();
		},
	};
}

function logLabels(exps: number[]) {
	return {
		id: "logLabels",
		afterDraw(chart: any) {
			const { ctx, chartArea: ca } = chart;
			const ys = chart.scales.y;
			ctx.save();
			ctx.fillStyle = "#000";
			ctx.textBaseline = "alphabetic";
			for (const n of exps) {
				const py = ys.getPixelForValue(Math.pow(10, n));
				const ex = minus(n);
				ctx.font = `12px ${FAMILY}`;
				const we = ctx.measureText(ex).width;
				const right = ca.left - 5.5;
				ctx.textAlign = "left";
				ctx.fillText(ex, right - we, py - 1.5);
				ctx.font = `17px ${FAMILY}`;
				ctx.textAlign = "right";
				ctx.fillText("10", right - we - 0.5, py + 6.3);
			}
			ctx.restore();
		},
	};
}

// ---------- components ----------
const TimePanel: React.FC<{ row: Row; idx: number }> = ({ row, idx }) => {
	const ref = useRef<HTMLCanvasElement | null>(null);
	const last = idx === rows.length - 1;
	const height = PAD + PANEL_H + (last ? X_AXIS_H : PAD);

	useEffect(() => {
		if (!ref.current) return;
		const color = COLORS[idx];
		const points = row.x.map((x, i) => {
			if (row.log) {
				const y = Math.pow(10, row.v[i]);
				const hi = Math.pow(10, row.v[i] + row.e[i]);
				return { x, y, hi, lo: 2 * y - hi };
			}
			return { x, y: row.v[i], hi: row.v[i] + row.e[i], lo: row.v[i] - row.e[i] };
		});
		const scaleVal = (t: number) => (row.log ? Math.pow(10, t) : t);
		const plugins: any[] = [errorBars(color, row.log), framePlugin];
		if (row.log) plugins.push(logLabels(row.ticks));

		const chart = new Chart(ref.current, {
			type: "scatter",
			data: {
				datasets: [
					{
						data: points,
						backgroundColor: color,
						borderWidth: 0,
						pointRadius: 5.2,
						pointHoverRadius: 5.2,
						clip: 0,
					} as any,
				],
			},
			options: {
				responsive: false,
				animation: false,
				events: [],
				layout: { padding: { left: 0, right: CW - RIGHT, top: PAD, bottom: last ? 0 : PAD } },
				plugins: { legend: { display: false }, tooltip: { enabled: false } },
				scales: {
					x: {
						type: "linear",
						min: 54498,
						max: 60324,
						display: last,
						afterBuildTicks: (s: any) => {
							s.ticks = xTicks.map((value) => ({ value }));
						},
						afterFit: (s: any) => {
							if (last) s.height = X_AXIS_H;
							s.paddingLeft = 0;
							s.paddingRight = 0;
						},
						ticks: {
							callback: (v: any) => String(v),
							font: { family: FAMILY, size: 17.5 },
							color: "#000",
							padding: -1,
							maxRotation: 0,
							autoSkip: false,
						},
						grid: { drawOnChartArea: false, drawTicks: true, tickLength: 4, color: "#000", lineWidth: 1.2 },
						border: { display: false },
					},
					y: {
						type: row.log ? "logarithmic" : "linear",
						min: scaleVal(row.yMin),
						max: scaleVal(row.yMax),
						afterBuildTicks: (s: any) => {
							s.ticks = row.ticks.map((t) => ({ value: scaleVal(t) }));
						},
						afterFit: (s: any) => {
							s.width = LEFT;
							s.paddingTop = 0;
							s.paddingBottom = 0;
						},
						ticks: {
							callback: (v: any) => (row.log ? "" : Number(v).toFixed(row.dec ?? 0)),
							font: { family: FAMILY, size: 17 },
							color: "#000",
							padding: 1.5,
							autoSkip: false,
						},
						grid: { drawOnChartArea: false, drawTicks: true, tickLength: 4, color: "#000", lineWidth: 1.2 },
						border: { display: false },
					} as any,
				},
			},
			plugins,
		});
		return () => chart.destroy();
	}, [row, idx, last]);

	return (
		<canvas
			ref={ref}
			width={CW}
			height={height}
			style={{ position: "absolute", left: 0, top: panelTops[idx] - PAD, width: CW, height }}
		/>
	);
};

const SideHist: React.FC<{ hist: Hist; idx: number }> = ({ hist, idx }) => {
	const ref = useRef<HTMLCanvasElement | null>(null);
	const [top, bottom] = histFrames[idx];
	const height = bottom - top + 2 * PAD;

	useEffect(() => {
		if (!ref.current) return;
		const color = COLORS[idx];
		// bar thickness in pixels = one bin width on the value scale
		const binWidth = Math.abs(hist.mid[0] - hist.mid[1]);
		const thickness = (binWidth / (hist.yMax - hist.yMin)) * (bottom - top) + 0.4;
		const chart = new Chart(ref.current, {
			type: "bar",
			data: {
				datasets: [
					{
						data: hist.mid.map((y, i) => ({ x: hist.n[i], y })),
						backgroundColor: color,
						borderColor: "rgba(255,255,255,0.2)",
						borderWidth: { top: 0, right: 1, bottom: 1, left: 0 },
						borderSkipped: false,
						barThickness: thickness,
						clip: 0,
					} as any,
				],
			},
			options: {
				indexAxis: "y",
				responsive: false,
				animation: false,
				events: [],
				layout: { padding: { left: 0, right: 1420 - H_RIGHT, top: PAD, bottom: PAD } },
				plugins: { legend: { display: false }, tooltip: { enabled: false } },
				scales: {
					x: { type: "linear", min: 0, max: 541, display: false, offset: false },
					y: {
						type: "linear",
						min: hist.yMin,
						max: hist.yMax,
						offset: false,
						afterBuildTicks: (s: any) => {
							s.ticks = hist.ticks.map((value) => ({ value }));
						},
						afterFit: (s: any) => {
							s.width = H_LEFT - H_X0;
							s.paddingTop = 0;
							s.paddingBottom = 0;
						},
						ticks: {
							callback: (v: any) => hist.fmt(Number(v)),
							font: { family: FAMILY, size: 12 },
							color: "#000",
							padding: 1.5,
							autoSkip: false,
						},
						grid: { offset: false, drawOnChartArea: false, drawTicks: true, tickLength: 4, color: "#000", lineWidth: 1.2 },
						border: { display: false },
					},
				},
			} as any,
			plugins: [framePlugin],
		});
		return () => chart.destroy();
	}, [hist, idx, top, bottom]);

	return (
		<canvas
			ref={ref}
			width={H_W}
			height={height}
			style={{ position: "absolute", left: H_X0, top: top - PAD, width: H_W, height }}
		/>
	);
};

const sub: React.CSSProperties = { fontSize: "70%", verticalAlign: "baseline", position: "relative", top: "0.3em" };
const sup: React.CSSProperties = { fontSize: "70%", verticalAlign: "baseline", position: "relative", top: "-0.5em" };

const yTitles: { y: number; node: React.ReactNode }[] = [
	{ y: 119, node: <i>p</i> },
	{ y: 349, node: <><i>γ</i><span style={sub}><i>max</i></span></> },
	{ y: 580, node: <i>δ</i> },
	{ y: 808, node: <>B[G]</> },
	{ y: 1040, node: <><i>L</i><span style={sub}><i>e</i></span> [erg s<span style={sup}>−1</span>]</> },
	{ y: 1266, node: <><i>L</i><span style={sub}><i>B</i></span> [erg s<span style={sup}>−1</span>]</> },
];

const panelLetters = ["a)", "b)", "c)", "d)", "e)"];
const letterY = [20, 262, 482, 727, 944];

export default function App() {
	return (
		<div
			style={{
				position: "absolute",
				left: 0,
				top: 0,
				width: 1420,
				height: 1410,
				background: "#fff",
				overflow: "hidden",
				fontFamily: FAMILY,
				color: "#000",
			}}
		>
			{rows.map((row, i) => (
				<TimePanel key={"t" + i} row={row} idx={i} />
			))}
			{hists.map((h, i) => (
				<SideHist key={"h" + i} hist={h} idx={i} />
			))}
			{yTitles.map((t, i) => (
				<div
					key={"y" + i}
					style={{
						position: "absolute",
						left: 15,
						top: t.y,
						transform: "translate(-50%, -50%) rotate(-90deg)",
						whiteSpace: "nowrap",
						fontSize: 17.5,
						lineHeight: "20px",
					}}
				>
					{t.node}
				</div>
			))}
			{panelLetters.map((t, i) => (
				<div
					key={"l" + i}
					style={{ position: "absolute", left: 101, top: letterY[i] - 10, fontSize: 17.5, lineHeight: "20px" }}
				>
					{t}
				</div>
			))}
		</div>
	);
}
